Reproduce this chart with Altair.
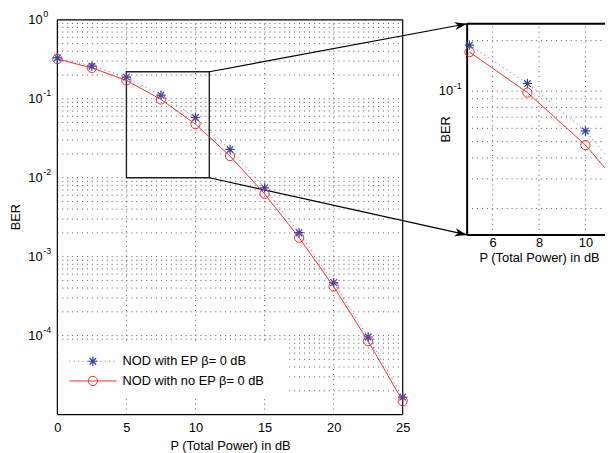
import math
import altair as alt
import pandas as pd

# ---------------- data ----------------
power_db = [0, 2.5, 5, 7.5, 10, 12.5, 15, 17.5, 20, 22.5, 25]
ber_with_ep = [0.329, 0.259, 0.188, 0.111, 0.0579, 0.0228, 0.00743, 0.00201, 4.69e-4, 9.6e-5, 1.66e-5]
ber_no_ep = [0.319, 0.246, 0.171, 0.098, 0.0477, 0.0188, 0.00625, 0.00174, 4.18e-4, 8.5e-5, 1.48e-5]
series_names = ["NOD with EP β= 0 dB", "NOD with no EP β= 0 dB"]

x_ticks_main = [0, 5, 10, 15, 20, 25]
y_decades_main = [1, 0.1, 0.01, 0.001, 0.0001]
y_exponents_main = ["0", "-1", "-2", "-3", "-4"]
x_ticks_inset = [6, 8, 10]
y_decades_inset = [0.1]
y_exponents_inset = ["-1"]

main_x_domain = [0, 25]
main_y_domain = [1e-5, 1]
zoom_box_x = [5, 11]
zoom_box_y = [0.01, 0.22]
inset_x_domain = [4.9, 11.1]
inset_y_domain = [0.0139, 0.252]

# ---------------- layout (pixels inside the view) ----------------
MAIN_W, MAIN_H = 350, 400
IN_X0, IN_X1 = 415.3, 561.0
IN_Y0, IN_Y1 = 4.0, 218.0
VIEW_W, VIEW_H = 555, 400

FONT = "Liberation Sans"
RED = "#e8332a"
BLUE = "#2f40b0"
GRID = "#444444"
DOTS = [1, 4]

X_MAIN = alt.Scale(domain=main_x_domain, range=[0, MAIN_W], nice=False, zero=False)
Y_MAIN = alt.Scale(type="log", domain=main_y_domain, range=[MAIN_H, 0], nice=False)
X_IN = alt.Scale(domain=inset_x_domain, range=[IN_X0, IN_X1], nice=False, zero=False)
Y_IN = alt.Scale(type="log", domain=inset_y_domain, range=[IN_Y1, IN_Y0], nice=False)


def main_px(x, y):
    px = (x - main_x_domain[0]) / (main_x_domain[1] - main_x_domain[0]) * MAIN_W
    ly0, ly1 = math.log10(main_y_domain[0]), math.log10(main_y_domain[1])
    py = (ly1 - math.log10(y)) / (ly1 - ly0) * MAIN_H
    return px, py


def main_val(px, py):
    x = main_x_domain[0] + px / MAIN_W * (main_x_domain[1] - main_x_domain[0])
    ly0, ly1 = math.log10(main_y_domain[0]), math.log10(main_y_domain[1])
    y = 10 ** (ly1 - py / MAIN_H * (ly1 - ly0))
    return x, y


def inset_px(x, y):
    px = IN_X0 + (x - inset_x_domain[0]) / (inset_x_domain[1] - inset_x_domain[0]) * (IN_X1 - IN_X0)
    ly0, ly1 = math.log10(inset_y_domain[0]), math.log10(inset_y_domain[1])
    py = IN_Y0 + (ly1 - math.log10(y)) / (ly1 - ly0) * (IN_Y1 - IN_Y0)
    return px, py


# ---------------- tables ----------------
rows = []
for i, p in enumerate(power_db):
    rows.append({"x": p, "ber": ber_with_ep[i], "series": series_names[0]})
    rows.append({"x": p, "ber": ber_no_ep[i], "series": series_names[1]})
df = pd.DataFrame(rows)
df_ep = df[df.series == series_names[0]]
df_no = df[df.series == series_names[1]]
df_in_ep = df_ep[(df_ep.x >= 5) & (df_ep.x <= 12.5)]
df_in_no = df_no[(df_no.x >= 5) & (df_no.x <= 12.5)]

# grid values
main_hgrid = []
for e in range(-5, 0):
    for k in range(1, 10):
        v = k * 10 ** e
        if v > main_y_domain[0] * 1.001:
            main_hgrid.append(v)
main_vgrid = [v for v in x_ticks_main if main_x_domain[0] < v < main_x_domain[1]]
inset_hgrid = [k * 0.01 for k in range(2, 10)] + [0.1, 0.2]
inset_vgrid = x_ticks_inset

STAR = "M0,-1L0,1M-1,0L1,0M-0.7,-0.7L0.7,0.7M-0.7,0.7L0.7,-0.7"
HEAD = "M0,0L-1,-0.32L-0.72,0L-1,0.32Z"

# ---------------- main layers ----------------
g_v = alt.Chart(pd.DataFrame({"x": main_vgrid, "y": main_y_domain[0], "y2": main_y_domain[1]})).mark_rule(
    stroke=GRID, strokeWidth=0.9, strokeDash=DOTS
).encode(x=alt.X("x:Q", scale=X_MAIN, axis=None), y=alt.Y("y:Q", scale=Y_MAIN, axis=None), y2="y2:Q")

g_h = alt.Chart(pd.DataFrame({"y": main_hgrid, "x": main_x_domain[0], "x2": main_x_domain[1]})).mark_rule(
    stroke=GRID, strokeWidth=0.9, strokeDash=DOTS
).encode(x=alt.X("x:Q", scale=X_MAIN, axis=None), x2="x2:Q", y=alt.Y("y:Q", scale=Y_MAIN, axis=None))

legend_bg = alt.Chart(pd.DataFrame({"a": [0]})).mark_rect(fill="white").encode(
    x=alt.value(1), x2=alt.value(235), y=alt.value(327), y2=alt.value(384)
)

frame_df = pd.DataFrame([
    {"x": main_x_domain[0], "x2": main_x_domain[0], "y": main_y_domain[0], "y2": main_y_domain[1]},
    {"x": main_x_domain[1], "x2": main_x_domain[1], "y": main_y_domain[0], "y2": main_y_domain[1]},
    {"x": main_x_domain[0], "x2": main_x_domain[1], "y": main_y_domain[0], "y2": main_y_domain[0]},
    {"x": main_x_domain[0], "x2": main_x_domain[1], "y": main_y_domain[1], "y2": main_y_domain[1]},
])
frame = alt.Chart(frame_df).mark_rule(stroke="black", strokeWidth=1.2).encode(
    x=alt.X("x:Q", scale=X_MAIN, axis=None), x2="x2:Q",
    y=alt.Y("y:Q", scale=Y_MAIN, axis=None), y2="y2:Q",
)

zoom_rect = alt.Chart(pd.DataFrame({"x": [zoom_box_x[0]], "x2": [zoom_box_x[1]], "y": [zoom_box_y[1]], "y2": [zoom_box_y[0]]})).mark_rect(
    fillOpacity=0, stroke="#222222", strokeWidth=1.4
).encode(x=alt.X("x:Q", scale=X_MAIN, axis=None), x2="x2:Q", y=alt.Y("y:Q", scale=Y_MAIN, axis=None), y2="y2:Q")

# arrows from zoom box corners to inset corners
arrow_rows = []
for by, iy in [(zoom_box_y[1], inset_y_domain[1]), (zoom_box_y[0], inset_y_domain[0])]:
    sx, sy = main_px(zoom_box_x[1], by)
    ex, ey = inset_px(inset_x_domain[0], iy)
    ex_v, ey_v = main_val(ex, ey)
    ang = math.degrees(math.atan2(ey - sy, ex - sx)) % 360
    arrow_rows.append({"x": zoom_box_x[1], "y": by, "x2": ex_v, "y2": ey_v, "ang": ang})
arrow_df = pd.DataFrame(arrow_rows)
arrows = alt.Chart(arrow_df).mark_rule(stroke="black", strokeWidth=1.2).encode(
    x=alt.X("x:Q", scale=X_MAIN, axis=None), x2="x2:Q", y=alt.Y("y:Q", scale=Y_MAIN, axis=None), y2="y2:Q"
)
heads = alt.Chart(arrow_df).mark_point(shape=HEAD, filled=True, size=640, color="black", strokeWidth=0, opacity=1).encode(
    x=alt.X("x2:Q", scale=X_MAIN, axis=None), y=alt.Y("y2:Q", scale=Y_MAIN, axis=None),
    angle=alt.Angle("ang:Q", scale=None),
)

x_axis_main = alt.Axis(
    orient="bottom",
    values=x_ticks_main, format="d", title="P (Total Power) in dB", domain=False, ticks=False, tickSize=0,
    grid=False, labelFont=FONT, labelFontSize=13, labelColor="black", labelPadding=7, labelFlush=False,
    labelOverlap=False,
    titleFont=FONT, titleFontSize=13, titleFontWeight="normal", titleColor="black", titlePadding=5,
)

line_ep = alt.Chart(df_ep).mark_line(color=BLUE, strokeWidth=1, strokeDash=[1, 3.5], opacity=0.8).encode(
    x=alt.X("x:Q", scale=X_MAIN, axis=None), y=alt.Y("ber:Q", scale=Y_MAIN, axis=None)
)
line_no = alt.Chart(df_no).mark_line(color=RED, strokeWidth=1).encode(
    x=alt.X("x:Q", scale=X_MAIN, axis=x_axis_main), y=alt.Y("ber:Q", scale=Y_MAIN, axis=None)
)
pts_ep = alt.Chart(df_ep).mark_point(shape=STAR, size=90, color=BLUE, strokeWidth=1.2, filled=False, opacity=1).encode(
    x=alt.X("x:Q", scale=X_MAIN, axis=None), y=alt.Y("ber:Q", scale=Y_MAIN, axis=None)
)
pts_no = alt.Chart(df_no).mark_point(shape="circle", size=88, color=RED, strokeWidth=1, filled=False, opacity=1).encode(
    x=alt.X("x:Q", scale=X_MAIN, axis=None), y=alt.Y("ber:Q", scale=Y_MAIN, axis=None)
)

# y labels (10 with superscript exponent)
ylab_main = pd.DataFrame({"v": y_decades_main, "e": y_exponents_main, "b": "10"})
ylab_base = alt.Chart(ylab_main).mark_text(font=FONT, fontSize=13, align="right", baseline="middle", color="black").encode(
    y=alt.Y("v:Q", scale=Y_MAIN, axis=None), x=alt.value(-15), text="b:N"
)
ylab_exp = alt.Chart(ylab_main).mark_text(font=FONT, fontSize=9, align="left", baseline="alphabetic", dy=-2.5, color="black").encode(
    y=alt.Y("v:Q", scale=Y_MAIN, axis=None), x=alt.value(-14.3), text="e:N"
)
ytitle_main = alt.Chart(pd.DataFrame({"t": ["BER"]})).mark_text(
    font=FONT, fontSize=13, angle=270, align="center", baseline="middle", color="black"
).encode(x=alt.value(-42), y=alt.value(MAIN_H / 2), text="t:N")

# legend
leg_df = pd.DataFrame({"t": series_names, "yy": [346, 366]})
leg_ep_line = alt.Chart(leg_df.iloc[[0]]).mark_rule(color=BLUE, strokeWidth=1, strokeDash=[1, 3.5], opacity=0.8).encode(
    x=alt.value(12), x2=alt.value(60), y=alt.value(346)
)
leg_no_line = alt.Chart(leg_df.iloc[[1]]).mark_rule(color=RED, strokeWidth=1).encode(
    x=alt.value(12), x2=alt.value(60), y=alt.value(366)
)
leg_ep_pt = alt.Chart(leg_df.iloc[[0]]).mark_point(shape=STAR, size=90, color=BLUE, strokeWidth=1.2, filled=False, opacity=1).encode(
    x=alt.value(36), y=alt.value(346)
)
leg_no_pt = alt.Chart(leg_df.iloc[[1]]).mark_point(shape="circle", size=88, color=RED, strokeWidth=1, filled=False, opacity=1).encode(
    x=alt.value(36), y=alt.value(366)
)
leg_text = alt.Chart(leg_df).mark_text(font=FONT, fontSize=13, align="left", baseline="middle", color="black").encode(
    x=alt.value(66), y=alt.Y("yy:Q", scale=None), text="t:N"
)

# ---------------- inset layers ----------------
ig_v = alt.Chart(pd.DataFrame({"x": inset_vgrid, "y": inset_y_domain[0], "y2": inset_y_domain[1]})).mark_rule(
    stroke=GRID, strokeWidth=0.9, strokeDash=DOTS
).encode(x=alt.X("x:Q", scale=X_IN, axis=None), y=alt.Y("y:Q", scale=Y_IN, axis=None), y2="y2:Q")
ig_h = alt.Chart(pd.DataFrame({"y": inset_hgrid, "x": inset_x_domain[0], "x2": inset_x_domain[1]})).mark_rule(
    stroke=GRID, strokeWidth=0.9, strokeDash=DOTS
).encode(x=alt.X("x:Q", scale=X_IN, axis=None), x2="x2:Q", y=alt.Y("y:Q", scale=Y_IN, axis=None))

iframe_df = pd.DataFrame([
    {"x": inset_x_domain[0], "x2": inset_x_domain[0], "y": inset_y_domain[0], "y2": inset_y_domain[1]},
    {"x": inset_x_domain[0], "x2": inset_x_domain[1], "y": inset_y_domain[0], "y2": inset_y_domain[0]},
    {"x": inset_x_domain[0], "x2": inset_x_domain[1], "y": inset_y_domain[1], "y2": inset_y_domain[1]},
    {"x": inset_x_domain[1], "x2": inset_x_domain[1], "y": inset_y_domain[0], "y2": inset_y_domain[1]},
])
iframe = alt.Chart(iframe_df).mark_rule(stroke="black", strokeWidth=2).encode(
    x=alt.X("x:Q", scale=X_IN, axis=None), x2="x2:Q", y=alt.Y("y:Q", scale=Y_IN, axis=None), y2="y2:Q"
)

x_axis_in = alt.Axis(
    orient="bottom",
    values=x_ticks_inset, format="d", title="P (Total Power) in dB", domain=False, ticks=False, tickSize=0,
    grid=False, labelFont=FONT, labelFontSize=13, labelColor="black", labelPadding=2, labelFlush=False,
    labelOverlap=False,
    titleFont=FONT, titleFontSize=13, titleFontWeight="normal", titleColor="black", titlePadding=2,
    offset=-(VIEW_H - IN_Y1),
)

iline_ep = alt.Chart(df_in_ep).mark_line(color=BLUE, strokeWidth=1, strokeDash=[1, 3.5], opacity=0.8).encode(
    x=alt.X("x:Q", scale=X_IN, axis=None), y=alt.Y("ber:Q", scale=Y_IN, axis=None)
)
iline_no = alt.Chart(df_in_no).mark_line(color=RED, strokeWidth=1).encode(
    x=alt.X("x:Q", scale=X_IN, axis=x_axis_in), y=alt.Y("ber:Q", scale=Y_IN, axis=None)
)
ipts_ep = alt.Chart(df_in_ep).mark_point(shape=STAR, size=90, color=BLUE, strokeWidth=1.2, filled=False, opacity=1).encode(
    x=alt.X("x:Q", scale=X_IN, axis=None), y=alt.Y("ber:Q", scale=Y_IN, axis=None)
)
ipts_no = alt.Chart(df_in_no).mark_point(shape="circle", size=88, color=RED, strokeWidth=1, filled=False, opacity=1).encode(
    x=alt.X("x:Q", scale=X_IN, axis=None), y=alt.Y("ber:Q", scale=Y_IN, axis=None)
)

ylab_in = pd.DataFrame({"v": y_decades_inset, "e": y_exponents_inset, "b": "10"})
iylab_base = alt.Chart(ylab_in).mark_text(font=FONT, fontSize=13, align="right", baseline="middle", color="black").encode(
    y=alt.Y("v:Q", scale=Y_IN, axis=None), x=alt.value(IN_X0 - 14.3), text="b:N"
)
iylab_exp = alt.Chart(ylab_in).mark_text(font=FONT, fontSize=9, align="left", baseline="alphabetic", dy=-2.5, color="black").encode(
    y=alt.Y("v:Q", scale=Y_IN, axis=None), x=alt.value(IN_X0 - 13.6), text="e:N"
)
iytitle = alt.Chart(pd.DataFrame({"t": ["BER"]})).mark_text(
    font=FONT, fontSize=13, angle=270, align="center", baseline="middle", color="black"
).encode(x=alt.value(IN_X0 - 21), y=alt.value((IN_Y0 + IN_Y1) / 2), text="t:N")

chart = alt.layer(
    g_v, g_h, legend_bg, frame, zoom_rect, arrows, heads,
    line_ep, line_no, pts_ep, pts_no,
    ylab_base, ylab_exp, ytitle_main,
    leg_ep_line, leg_no_line, leg_ep_pt, leg_no_pt, leg_text,
    ig_v, ig_h, iframe, iline_ep, iline_no, ipts_ep, ipts_no,
    iylab_base, iylab_exp, iytitle,
).resolve_scale(x="independent", y="independent").resolve_axis(x="independent", y="independent").properties(
    width=VIEW_W, height=VIEW_H,
    autosize=alt.AutoSizeParams(type="none"),
    padding={"left": 50, "top": 9, "right": 0, "bottom": 36},
    background="white",
).configure_view(stroke=None)

chart.save("out.html", embed_options={"renderer": "svg", "actions": False})
